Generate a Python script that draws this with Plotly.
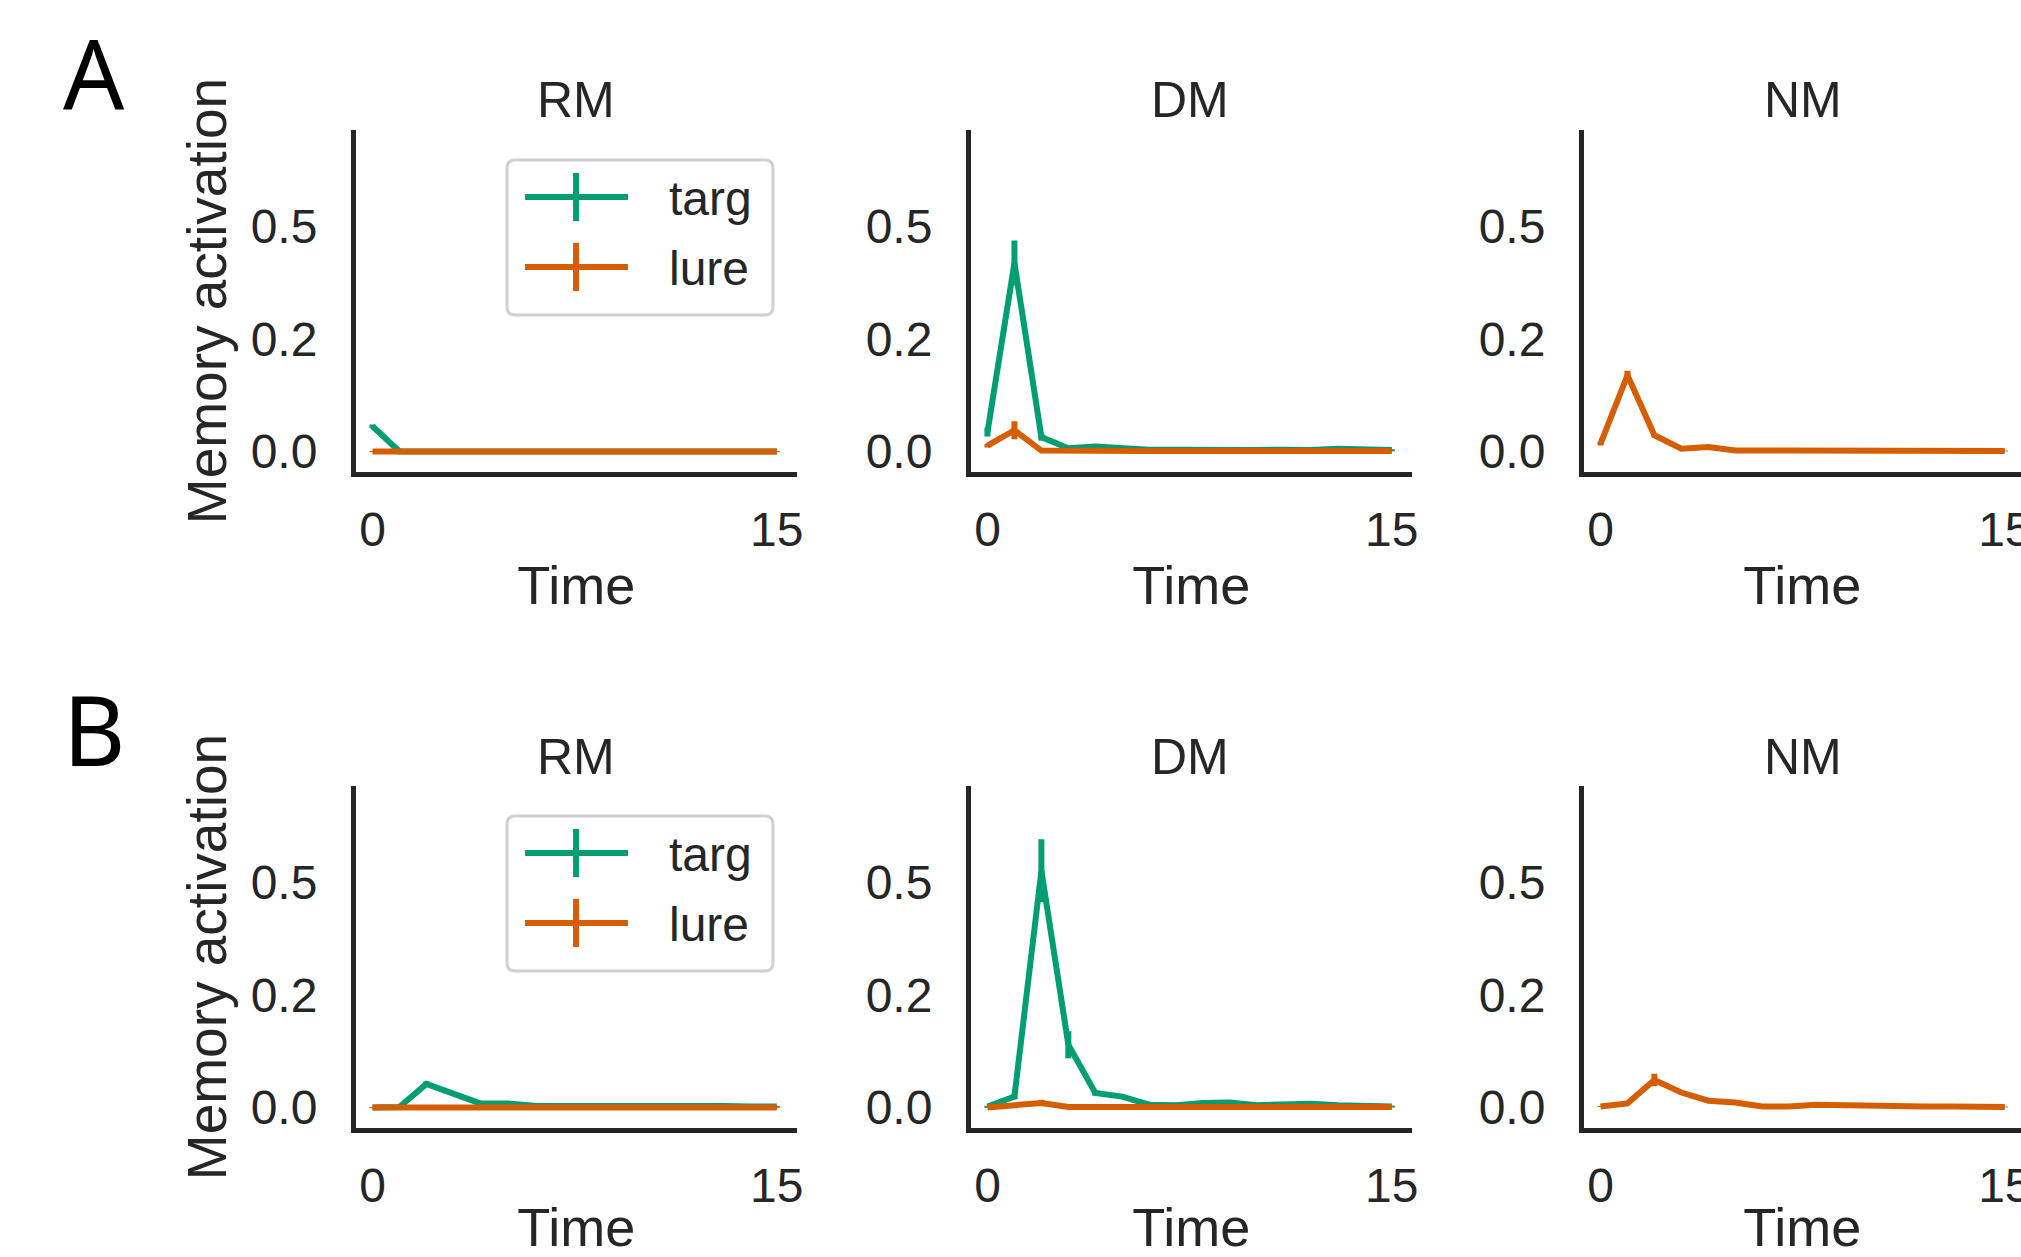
import plotly.graph_objects as go

# ---------------- data ----------------
time = list(range(16))
conditions = ["RM", "DM", "NM"]
series_names = ["targ", "lure"]
panel_letters = ["A", "B"]
y_tick_vals = [0.0, 0.25, 0.5]
y_tick_text = ["0.0", "0.2", "0.5"]
x_tick_vals = [0, 15]
x_tick_text = ["0", "15"]

# Panel A
a_rm_targ = [0.056, 0.000, 0.000, 0.000, 0.000, 0.000, 0.000, 0.000, 0.000, 0.000, 0.000, 0.000, 0.000, 0.001, 0.000, 0.000]
a_rm_targ_err = [0.004, 0.001, 0.001, 0.001, 0.001, 0.001, 0.001, 0.001, 0.001, 0.001, 0.001, 0.001, 0.001, 0.001, 0.001, 0.001]
a_rm_lure = [0.000, 0.000, 0.000, 0.000, 0.000, 0.000, 0.000, 0.000, 0.000, 0.000, 0.000, 0.000, 0.000, 0.000, 0.000, 0.000]
a_rm_lure_err = [0.001, 0.001, 0.001, 0.001, 0.001, 0.001, 0.001, 0.001, 0.001, 0.001, 0.001, 0.001, 0.001, 0.001, 0.001, 0.001]
a_dm_targ = [0.043, 0.418, 0.032, 0.007, 0.011, 0.006, 0.004, 0.004, 0.003, 0.003, 0.003, 0.004, 0.003, 0.006, 0.004, 0.003]
a_dm_targ_err = [0.010, 0.050, 0.008, 0.003, 0.003, 0.002, 0.002, 0.002, 0.002, 0.002, 0.002, 0.002, 0.002, 0.002, 0.002, 0.002]
a_dm_lure = [0.013, 0.047, 0.002, 0.001, 0.001, 0.001, 0.001, 0.001, 0.001, 0.001, 0.001, 0.001, 0.001, 0.001, 0.001, 0.001]
a_dm_lure_err = [0.004, 0.020, 0.002, 0.001, 0.001, 0.001, 0.001, 0.001, 0.001, 0.001, 0.001, 0.001, 0.001, 0.001, 0.001, 0.001]
a_nm_lure = [0.017, 0.169, 0.036, 0.006, 0.010, 0.002, 0.002, 0.002, 0.001, 0.001, 0.001, 0.001, 0.001, 0.002, 0.001, 0.001]
a_nm_lure_err = [0.004, 0.010, 0.005, 0.002, 0.002, 0.001, 0.001, 0.001, 0.001, 0.001, 0.001, 0.001, 0.001, 0.001, 0.001, 0.001]

# Panel B
b_rm_targ = [0.000, 0.001, 0.052, 0.030, 0.009, 0.009, 0.004, 0.003, 0.004, 0.005, 0.003, 0.003, 0.004, 0.003, 0.002, 0.002]
b_rm_targ_err = [0.001, 0.001, 0.006, 0.004, 0.002, 0.002, 0.001, 0.001, 0.001, 0.001, 0.001, 0.001, 0.001, 0.001, 0.001, 0.001]
b_rm_lure = [0.000, 0.000, 0.000, 0.000, 0.000, 0.000, 0.000, 0.000, 0.000, 0.000, 0.000, 0.000, 0.000, 0.000, 0.000, 0.000]
b_rm_lure_err = [0.001, 0.001, 0.001, 0.001, 0.001, 0.001, 0.001, 0.001, 0.001, 0.001, 0.001, 0.001, 0.001, 0.001, 0.001, 0.001]
b_dm_targ = [0.002, 0.024, 0.525, 0.139, 0.032, 0.024, 0.006, 0.005, 0.010, 0.011, 0.005, 0.007, 0.008, 0.005, 0.003, 0.002]
b_dm_targ_err = [0.002, 0.006, 0.070, 0.030, 0.006, 0.005, 0.003, 0.002, 0.003, 0.003, 0.002, 0.002, 0.002, 0.002, 0.002, 0.002]
b_dm_lure = [0.000, 0.004, 0.010, 0.001, 0.001, 0.001, 0.001, 0.001, 0.001, 0.001, 0.001, 0.001, 0.001, 0.001, 0.001, 0.001]
b_dm_lure_err = [0.001, 0.002, 0.007, 0.001, 0.001, 0.001, 0.001, 0.001, 0.001, 0.001, 0.001, 0.001, 0.001, 0.001, 0.001, 0.001]
b_nm_lure = [0.002, 0.009, 0.061, 0.033, 0.015, 0.011, 0.002, 0.002, 0.006, 0.005, 0.001, 0.002, 0.002, 0.002, 0.001, 0.001]
b_nm_lure_err = [0.001, 0.002, 0.014, 0.004, 0.003, 0.002, 0.001, 0.001, 0.001, 0.001, 0.001, 0.001, 0.001, 0.001, 0.001, 0.001]

panels = {
    ("A", "RM"): {"targ": (a_rm_targ, a_rm_targ_err), "lure": (a_rm_lure, a_rm_lure_err)},
    ("A", "DM"): {"targ": (a_dm_targ, a_dm_targ_err), "lure": (a_dm_lure, a_dm_lure_err)},
    ("A", "NM"): {"lure": (a_nm_lure, a_nm_lure_err)},
    ("B", "RM"): {"targ": (b_rm_targ, b_rm_targ_err), "lure": (b_rm_lure, b_rm_lure_err)},
    ("B", "DM"): {"targ": (b_dm_targ, b_dm_targ_err), "lure": (b_dm_lure, b_dm_lure_err)},
    ("B", "NM"): {"lure": (b_nm_lure, b_nm_lure_err)},
}

# ---------------- style ----------------
W, H = 2021, 1257
FONT = "Liberation Sans, Arial, Helvetica, sans-serif"
INK = "#262626"
COLORS = {"targ": "#029e73", "lure": "#d55e00"}
LINE_W = 6

# plot-area boxes in pixels (left, right) / (top, bottom)
col_px = [(355.5, 797), (970.5, 1412), (1583.5, 2021)]
row_px = [(130, 472), (786, 1128)]
x_ranges = [[-0.63, 15.75], [-0.63, 15.75], [-0.63, 15.6]]
y_range = [-0.0456, 0.713]
col_center = [576, 1190, 1802.5]


def fx(p):
    return p / W


def fy(p):
    return 1 - p / H


fig = go.Figure()
layout = dict(
    width=W, height=H,
    margin=dict(l=0, r=0, t=0, b=0, pad=0),
    paper_bgcolor="white", plot_bgcolor="white",
    showlegend=False,
    font=dict(family=FONT, color=INK),
    template="none",
)
annotations = []
shapes = []

for r, letter in enumerate(panel_letters):
    for c, cond in enumerate(conditions):
        idx = r * 3 + c + 1
        xs = "" if idx == 1 else str(idx)
        for name in series_names:
            if name not in panels[(letter, cond)]:
                continue
            vals, errs = panels[(letter, cond)][name]
            fig.add_trace(go.Scatter(
                x=time, y=vals, mode="lines", name=name,
                xaxis="x" + xs, yaxis="y" + xs,
                line=dict(color=COLORS[name], width=LINE_W),
                error_y=dict(type="data", array=errs, visible=True,
                             color=COLORS[name], thickness=6, width=0),
                showlegend=False,
            ))
        x0, x1 = col_px[c]
        y0, y1 = row_px[r]
        layout["xaxis" + xs] = dict(
            domain=[fx(x0), fx(x1)], anchor="y" + xs, range=x_ranges[c],
            showline=True, linecolor=INK, linewidth=4.5, mirror=False,
            showgrid=False, zeroline=False,
            tickmode="array", tickvals=x_tick_vals, ticktext=x_tick_text,
            ticks="outside", ticklen=12, tickcolor="rgba(0,0,0,0)",
            ticklabeloverflow="allow",
            tickfont=dict(size=48, family=FONT, color=INK),
            title=dict(text="Time", font=dict(size=54, family=FONT, color=INK), standoff=12),
            automargin=False, fixedrange=True,
        )
        ydict = dict(
            domain=[fy(y1), fy(y0)], anchor="x" + xs, range=y_range,
            showline=True, linecolor=INK, linewidth=4.5, mirror=False,
            showgrid=False, zeroline=False,
            tickmode="array", tickvals=y_tick_vals, ticktext=y_tick_text,
            ticks="outside", ticklen=24, tickcolor="rgba(0,0,0,0)",
            tickfont=dict(size=48, family=FONT, color=INK),
            automargin=False, fixedrange=True,
        )
        if c == 0:
            ydict["title"] = dict(text="Memory activation",
                                  font=dict(size=55, family=FONT, color=INK), standoff=8)
        layout["yaxis" + xs] = ydict

        # panel title
        annotations.append(dict(
            text=cond, x=fx(col_center[c]), y=fy(y0 - 29.5), xref="paper", yref="paper",
            xanchor="center", yanchor="middle", showarrow=False,
            font=dict(size=50, family=FONT, color=INK),
        ))

    # panel letter
    annotations.append(dict(
        text=letter, x=fx(94), y=fy(row_px[r][0] - 58), xref="paper", yref="paper",
        xanchor="center", yanchor="middle", showarrow=False,
        font=dict(size=96, family="Noto Sans, DejaVu Sans, sans-serif", color="black"),
    ))

    # legend (in the first panel of each row)
    off = row_px[r][0] - 130
    bx0, bx1, by0, by1, rad = 507, 773, 160 + off, 315 + off, 8
    path = (
        f"M {fx(bx0 + rad)},{fy(by0)} L {fx(bx1 - rad)},{fy(by0)} "
        f"Q {fx(bx1)},{fy(by0)} {fx(bx1)},{fy(by0 + rad)} "
        f"L {fx(bx1)},{fy(by1 - rad)} Q {fx(bx1)},{fy(by1)} {fx(bx1 - rad)},{fy(by1)} "
        f"L {fx(bx0 + rad)},{fy(by1)} Q {fx(bx0)},{fy(by1)} {fx(bx0)},{fy(by1 - rad)} "
        f"L {fx(bx0)},{fy(by0 + rad)} Q {fx(bx0)},{fy(by0)} {fx(bx0 + rad)},{fy(by0)} Z"
    )
    shapes.append(dict(type="path", path=path, xref="paper", yref="paper",
                       line=dict(color="#d0d0d0", width=3), fillcolor="rgba(255,255,255,0.85)",
                       layer="above"))
    for k, name in enumerate(series_names):
        ly = 197 + 70 * k + off
        shapes.append(dict(type="line", xref="paper", yref="paper",
                           x0=fx(525), x1=fx(628), y0=fy(ly), y1=fy(ly),
                           line=dict(color=COLORS[name], width=6), layer="above"))
        shapes.append(dict(type="line", xref="paper", yref="paper",
                           x0=fx(576), x1=fx(576), y0=fy(ly - 24), y1=fy(ly + 24),
                           line=dict(color=COLORS[name], width=6), layer="above"))
        annotations.append(dict(
            text=name, x=fx(667), y=fy(ly + 1.5), xref="paper", yref="paper",
            xanchor="left", yanchor="middle", showarrow=False,
            font=dict(size=48, family=FONT, color=INK),
        ))

layout["annotations"] = annotations
layout["shapes"] = shapes
fig.update_layout(**layout)

fig.write_html(
    "out.html",
    config={"displayModeBar": False, "staticPlot": True},
    post_script="document.body.style.margin='0';document.body.style.overflow='hidden';",
)
